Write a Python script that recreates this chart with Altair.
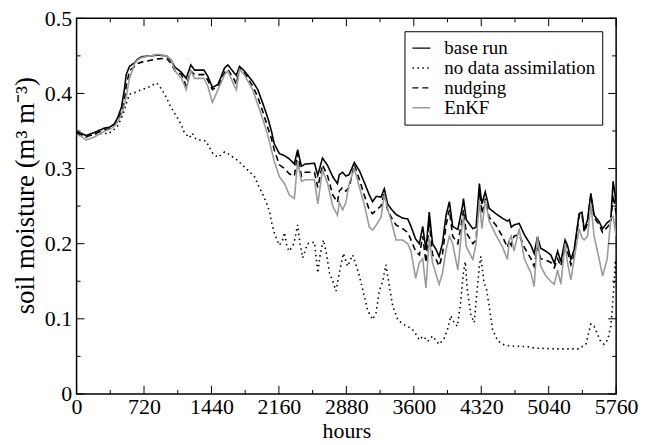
import altair as alt
import pandas as pd

# ---------------- data ----------------
hours_main = [
    0, 50, 100, 190, 300, 350, 400, 440, 480, 510,
    530, 565, 620, 655, 700, 870, 960, 1010, 1050, 1120,
    1170, 1220, 1260, 1360, 1400, 1450, 1510, 1580, 1615, 1685,
    1705, 1740, 1790, 1880, 1935, 1990, 2040, 2080, 2110, 2165,
    2220, 2270, 2325, 2360, 2400, 2440, 2540, 2575, 2625, 2680,
    2735, 2785, 2805, 2840, 2875, 2910, 2965, 3020, 3070, 3125,
    3160, 3200, 3250, 3285, 3320, 3360, 3410, 3480, 3535, 3570,
    3620, 3660, 3695, 3730, 3765, 3800, 3835, 3870, 3905, 3945,
    3980, 4015, 4070, 4120, 4130, 4160, 4230, 4265, 4300, 4327,
    4363, 4405, 4475, 4545, 4600, 4620, 4640, 4670, 4725, 4780,
    4850, 4885, 4920, 4955, 5010, 5063, 5100, 5135, 5170, 5215,
    5240, 5277, 5312, 5365, 5395, 5420, 5455, 5490, 5525, 5580,
    5615, 5665, 5703, 5728, 5760,
]

base_run = [
    0.349, 0.347, 0.344, 0.348, 0.354, 0.355, 0.359, 0.368, 0.382, 0.405,
    0.425, 0.436, 0.441, 0.446, 0.449, 0.451, 0.450, 0.444, 0.435, 0.428,
    0.420, 0.438, 0.431, 0.431, 0.423, 0.408, 0.412, 0.434, 0.438, 0.427,
    0.424, 0.436, 0.430, 0.416, 0.405, 0.386, 0.368, 0.350, 0.333, 0.320,
    0.317, 0.313, 0.306, 0.325, 0.303, 0.306, 0.307, 0.291, 0.314, 0.304,
    0.289, 0.280, 0.292, 0.295, 0.290, 0.292, 0.308, 0.297, 0.282, 0.265,
    0.256, 0.263, 0.262, 0.273, 0.253, 0.246, 0.239, 0.234, 0.233, 0.223,
    0.206, 0.200, 0.223, 0.192, 0.242, 0.200, 0.193, 0.183, 0.200, 0.238,
    0.256, 0.223, 0.219, 0.250, 0.260, 0.232, 0.220, 0.222, 0.280, 0.253,
    0.269, 0.247, 0.240, 0.234, 0.230, 0.232, 0.222, 0.225, 0.227, 0.212,
    0.198, 0.187, 0.209, 0.194, 0.190, 0.185, 0.174, 0.190, 0.176, 0.205,
    0.198, 0.179, 0.192, 0.240, 0.242, 0.218, 0.232, 0.267, 0.238, 0.229,
    0.220, 0.228, 0.232, 0.283, 0.255,
]

nudging = [
    0.347, 0.345, 0.342, 0.346, 0.352, 0.353, 0.357, 0.364, 0.375, 0.390,
    0.410, 0.430, 0.436, 0.440, 0.442, 0.446, 0.447, 0.440, 0.430, 0.425,
    0.410, 0.430, 0.425, 0.425, 0.418, 0.405, 0.410, 0.428, 0.432, 0.418,
    0.412, 0.434, 0.428, 0.410, 0.395, 0.375, 0.355, 0.340, 0.325, 0.305,
    0.300, 0.293, 0.290, 0.320, 0.290, 0.295, 0.295, 0.275, 0.305, 0.290,
    0.265, 0.255, 0.270, 0.275, 0.270, 0.275, 0.305, 0.285, 0.265, 0.245,
    0.240, 0.245, 0.250, 0.268, 0.245, 0.235, 0.225, 0.220, 0.215, 0.205,
    0.190, 0.185, 0.210, 0.175, 0.230, 0.185, 0.180, 0.170, 0.185, 0.225,
    0.245, 0.210, 0.200, 0.235, 0.245, 0.215, 0.200, 0.205, 0.270, 0.240,
    0.260, 0.235, 0.225, 0.210, 0.195, 0.205, 0.198, 0.210, 0.212, 0.195,
    0.180, 0.170, 0.195, 0.180, 0.178, 0.175, 0.168, 0.180, 0.170, 0.200,
    0.190, 0.172, 0.185, 0.238, 0.240, 0.215, 0.228, 0.265, 0.235, 0.225,
    0.215, 0.222, 0.228, 0.265, 0.240,
]

enkf = [
    0.345, 0.343, 0.338, 0.342, 0.350, 0.352, 0.356, 0.362, 0.372, 0.385,
    0.395, 0.420, 0.440, 0.445, 0.448, 0.452, 0.450, 0.445, 0.430, 0.420,
    0.405, 0.430, 0.420, 0.420, 0.410, 0.388, 0.405, 0.425, 0.430, 0.410,
    0.405, 0.432, 0.425, 0.405, 0.385, 0.365, 0.345, 0.325, 0.310, 0.289,
    0.280, 0.265, 0.260, 0.310, 0.283, 0.285, 0.285, 0.253, 0.298, 0.280,
    0.250, 0.238, 0.255, 0.245, 0.255, 0.280, 0.300, 0.275, 0.253, 0.222,
    0.218, 0.225, 0.235, 0.265, 0.247, 0.230, 0.205, 0.205, 0.200, 0.190,
    0.154, 0.175, 0.180, 0.141, 0.207, 0.175, 0.160, 0.146, 0.160, 0.192,
    0.210, 0.200, 0.165, 0.229, 0.237, 0.196, 0.179, 0.200, 0.258, 0.220,
    0.258, 0.230, 0.212, 0.196, 0.179, 0.205, 0.210, 0.190, 0.220, 0.180,
    0.161, 0.143, 0.210, 0.170, 0.157, 0.150, 0.146, 0.165, 0.146, 0.200,
    0.175, 0.152, 0.180, 0.220, 0.208, 0.205, 0.210, 0.253, 0.210, 0.179,
    0.157, 0.180, 0.234, 0.236, 0.210,
]

hours_noda = [
    0, 50, 100, 190, 300, 335, 400, 440, 495, 530,
    565, 640, 690, 745, 795, 850, 885, 940, 975, 1010,
    1065, 1115, 1150, 1205, 1235, 1275, 1345, 1380, 1420, 1455,
    1510, 1580, 1615, 1670, 1720, 1775, 1845, 1900, 1950, 1990,
    2025, 2060, 2080, 2112, 2140, 2165, 2200, 2220, 2245, 2270,
    2320, 2360, 2385, 2414, 2465, 2540, 2575, 2600, 2635, 2663,
    2700, 2735, 2770, 2805, 2848, 2894, 2947, 2983, 3019, 3072,
    3108, 3160, 3197, 3232, 3268, 3303, 3339, 3375, 3428, 3480,
    3534, 3600, 3659, 3700, 3750, 3800, 3870, 3920, 3960, 3995,
    4030, 4065, 4100, 4128, 4150, 4170, 4210, 4245, 4270, 4300,
    4316, 4350, 4375, 4405, 4440, 4495, 4550, 4620, 4800, 4900,
    5100, 5360, 5437, 5490, 5525, 5560, 5597, 5632, 5670, 5703,
    5720, 5739, 5752, 5760,
]

no_da = [
    0.347, 0.345, 0.342, 0.346, 0.347, 0.346, 0.352, 0.357, 0.372, 0.386,
    0.399, 0.402, 0.405, 0.407, 0.410, 0.414, 0.410, 0.399, 0.390, 0.381,
    0.370, 0.359, 0.348, 0.341, 0.347, 0.339, 0.337, 0.337, 0.328, 0.320,
    0.315, 0.322, 0.320, 0.315, 0.311, 0.304, 0.296, 0.289, 0.275, 0.265,
    0.255, 0.243, 0.229, 0.214, 0.205, 0.198, 0.205, 0.215, 0.196, 0.190,
    0.200, 0.225, 0.200, 0.181, 0.200, 0.202, 0.161, 0.185, 0.205, 0.190,
    0.161, 0.150, 0.137, 0.161, 0.187, 0.170, 0.185, 0.172, 0.157, 0.130,
    0.111, 0.099, 0.108, 0.137, 0.150, 0.172, 0.143, 0.117, 0.099, 0.093,
    0.090, 0.084, 0.072, 0.077, 0.070, 0.077, 0.066, 0.073, 0.086, 0.104,
    0.095, 0.090, 0.122, 0.160, 0.176, 0.140, 0.105, 0.095, 0.130, 0.170,
    0.183, 0.148, 0.140, 0.117, 0.086, 0.071, 0.066, 0.064, 0.063, 0.061,
    0.060, 0.060, 0.066, 0.093, 0.090, 0.080, 0.069, 0.066, 0.072, 0.090,
    0.115, 0.150, 0.178, 0.155,
]

series_names = ["base run", "no data assimilation", "nudging", "EnKF"]
series_colors = ["#000000", "#000000", "#000000", "#9a9a9a"]
series_dashes = [[1, 0], [1.5, 3.5], [6, 4], [1, 0]]

x_major = [0, 720, 1440, 2160, 2880, 3600, 4320, 5040, 5760]
x_minor = [360, 1080, 1800, 2520, 3240, 3960, 4680, 5400]
y_major = [0, 0.1, 0.2, 0.3, 0.4, 0.5]
y_minor = [0.05, 0.15, 0.25, 0.35, 0.45]

# ---------------- build table ----------------
rows = []
for name, hs, vs in [
    ("base run", hours_main, base_run),
    ("no data assimilation", hours_noda, no_da),
    ("nudging", hours_main, nudging),
    ("EnKF", hours_main, enkf),
]:
    for h, v in zip(hs, vs):
        rows.append({"hours": h, "sm": v, "series": name})
df = pd.DataFrame(rows)

W, H = 543, 378
FONT = "Liberation Serif"
xs = alt.Scale(domain=[0, 5760], nice=False)
ys = alt.Scale(domain=[0, 0.5], nice=False)

x_axis = alt.Axis(values=x_major, format="d", title="hours", labelPadding=3,
                  titlePadding=3, labelFlush=False)
y_axis = alt.Axis(values=y_major, format=".1~f", title="soil moisture (m³ m⁻³)",
                  labelPadding=5, titlePadding=5, labelFlush=False, titleFontSize=27,
                  titleY=178)

legend = alt.Legend(
    title=None, orient="none", legendX=330, legendY=13,
    symbolType="stroke", symbolSize=324, symbolStrokeWidth=1.5,
    labelOffset=13, labelLimit=400, rowPadding=-2.5,
    strokeColor="black", fillColor="white", padding=7,
)

lines = alt.Chart(df).mark_line(strokeWidth=1.6, clip=True).encode(
    x=alt.X("hours:Q", scale=xs, axis=x_axis),
    y=alt.Y("sm:Q", scale=ys, axis=y_axis),
    color=alt.Color("series:N", scale=alt.Scale(domain=series_names, range=series_colors), legend=legend),
    strokeDash=alt.StrokeDash("series:N", scale=alt.Scale(domain=series_names, range=series_dashes), legend=legend),
)

def xticks(vals, y0, y1):
    return alt.Chart(pd.DataFrame({"hours": vals})).mark_rule(color="black", strokeWidth=1).encode(
        x=alt.X("hours:Q", scale=xs, axis=x_axis), y=alt.value(y0), y2=alt.value(y1))

def yticks(vals, x0, x1):
    return alt.Chart(pd.DataFrame({"sm": vals})).mark_rule(color="black", strokeWidth=1).encode(
        y=alt.Y("sm:Q", scale=ys, axis=y_axis), x=alt.value(x0), x2=alt.value(x1))

chart = alt.layer(
    lines,
    xticks(x_major, H, H - 8), xticks(x_minor, H, H - 4),
    xticks(x_major, 0, 8), xticks(x_minor, 0, 4),
    yticks(y_major, 0, 8), yticks(y_minor, 0, 4),
    yticks(y_major, W, W - 8), yticks(y_minor, W, W - 4),
).properties(
    width=W, height=H, background="white",
    autosize=alt.AutoSizeParams(type="none"),
    padding={"left": 69, "top": 9, "right": 22, "bottom": 48},
).configure_view(
    stroke="black", strokeWidth=1.5
).configure_axis(
    ticks=False, domain=False, grid=False,
    labelFont=FONT, labelFontSize=22, labelColor="black",
    titleFont=FONT, titleFontSize=22, titleFontWeight="normal", titleColor="black",
).configure_legend(
    labelFont=FONT, labelFontSize=19, labelColor="black",
)

chart.save("out.html", embed_options={"renderer": "svg", "actions": False})
